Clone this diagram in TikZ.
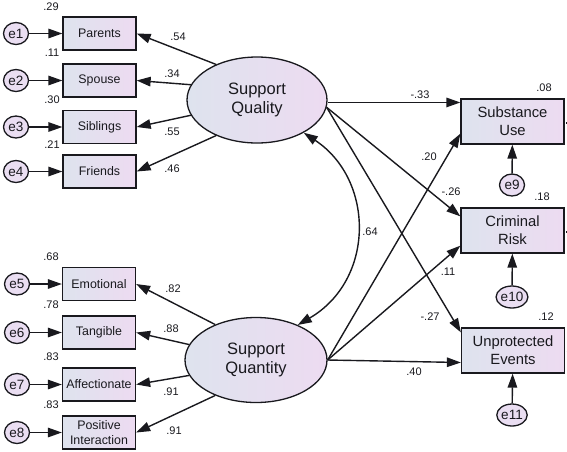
\documentclass[tikz,border=0pt]{standalone}
\usepackage{fontspec}
\setmainfont{Liberation Sans}
\usetikzlibrary{shapes.geometric,arrows.meta}
\definecolor{boxL}{RGB}{222,227,238}
\definecolor{boxR}{RGB}{237,219,241}
\definecolor{errC}{RGB}{234,222,242}
\definecolor{ink}{RGB}{25,25,30}
\tikzset{
  obs/.style={draw=ink, line width=1.3pt, left color=boxL, right color=boxR, minimum width=73pt, minimum height=33pt, inner sep=0pt, align=center, text=ink, font=\fontsize{12.4}{14.5}\selectfont},
  dep/.style={obs, minimum width=103pt, minimum height=45pt, font=\fontsize{14.8}{17.7}\selectfont},
  lat/.style={ellipse, draw=ink, line width=1.3pt, left color=boxL, right color=boxR, inner sep=0pt, align=center, text=ink, font=\fontsize{16.5}{19}\selectfont},
  err/.style={ellipse, draw=ink, line width=1.3pt, fill=errC, minimum width=25pt, minimum height=22pt, inner sep=0pt, text=ink, font=\fontsize{13.5}{14}\selectfont},
  lbl/.style={inner sep=0pt, text=ink, font=\fontsize{11}{13}\selectfont},
  arr/.style={-{Triangle[length=14pt,width=9.5pt]}, line width=1.4pt, draw=ink},
  cov/.style={{Triangle[length=14pt,width=9.5pt]}-{Triangle[length=14pt,width=9.5pt]}, line width=1.4pt, draw=ink},
}
\begin{document}
\begin{tikzpicture}[x=1pt,y=-1pt]
\useasboundingbox (0,0) rectangle (567,451);
% latent
\node[lat, minimum width=140pt, minimum height=86pt] (SQ) at (257,100) {Support\\Quality};
\node[lat, minimum width=142pt, minimum height=85pt] (SN) at (256,360) {Support\\Quantity};
% left indicators
\node[obs] (b1) at (99.5,33.5) {Parents};
\node[obs] (b2) at (99.5,80.5) {Spouse};
\node[obs] (b3) at (99.5,127) {Siblings};
\node[obs] (b4) at (99.5,171.5) {Friends};
\node[obs] (b5) at (99,284) {Emotional};
\node[obs] (b6) at (99,332.5) {Tangible};
\node[obs] (b7) at (99,384.5) {Affectionate};
\node[obs] (b8) at (99,432.5) {Positive\\Interaction};
% errors
\node[err] (e1) at (16,33.5) {e1};
\node[err] (e2) at (16,80.5) {e2};
\node[err] (e3) at (16,127) {e3};
\node[err] (e4) at (16,171.5) {e4};
\node[err] (e5) at (17,284) {e5};
\node[err] (e6) at (17,332.5) {e6};
\node[err] (e7) at (17,384.5) {e7};
\node[err] (e8) at (17,432.5) {e8};
% outcomes
\node[dep] (Sub) at (512.5,121.5) {Substance\\Use};
\node[dep] (Crim) at (512.5,230.5) {Criminal\\Risk};
\node[dep] (Unp) at (513,350.5) {Unprotected\\Events};
\node[err] (e9) at (512,185) {e9};
\node[err] (e10) at (512,297) {e10};
\node[err] (e11) at (512,415) {e11};
% error arrows
\foreach \i in {1,...,8} \draw[arr] (e\i) -- (b\i);
\draw[arr] (e9) -- (Sub);
\draw[arr] (e10) -- (Crim);
\draw[arr] (e11) -- (Unp);
% loadings
\draw[arr] (SQ.139) -- (b1.east);
\draw[arr] (SQ.167) -- (b2.east);
\draw[arr] (SQ.193) -- (b3.east);
\draw[arr] (SQ.221) -- (b4.east);
\draw[arr] (SN.139) -- (b5.east);
\draw[arr] (SN.167) -- (b6.east);
\draw[arr] (SN.193) -- (b7.east);
\draw[arr] (SN.221) -- (b8.east);
% structural paths
\draw[arr] (SQ.-2.5) -- (SQ.-2.5 -| Sub.west);
\draw[arr] (SQ.-6) -- ([yshift=-9pt]Crim.north west);
\draw[arr] (SQ.-6) -- ([yshift=-5pt]Unp.north west);
\draw[arr] (SN.east) -- ([yshift=11pt]Sub.south west);
\draw[arr] (SN.east) -- ([yshift=8pt]Crim.south west);
\draw[arr] (SN.east) -- ([yshift=-12pt]Unp.west);
% covariance
\draw[cov] (SQ.-35) .. controls (375,180) and (375,280) .. (SN.40);
% stubs on right edge
\coordinate (s1) at (567,123);
\coordinate (s2) at (567,232);
\coordinate (s3) at (567,352);
\draw[line width=1.4pt, draw=ink] ([xshift=1.5pt]Sub.east |- s1) -- (s1);
\draw[line width=1.4pt, draw=ink] ([xshift=1.5pt]Crim.east |- s2) -- (s2);
\draw[line width=1.4pt, draw=ink] ([xshift=1.5pt]Unp.east |- s3) -- (s3);
% variance labels
\node[lbl] (v1) at (51,7) {.29};
\node[lbl] (v2) at (52,53) {.11};
\node[lbl] (v3) at (52,100) {.30};
\node[lbl] (v4) at (52,145) {.21};
\node[lbl] (v5) at (51,257) {.68};
\node[lbl] (v6) at (51,305) {.78};
\node[lbl] (v7) at (51,357) {.83};
\node[lbl] (v8) at (51,405) {.83};
\node[lbl] (v9) at (544,88) {.08};
\node[lbl] (v10) at (542,197) {.18};
\node[lbl] (v11) at (546,317) {.12};
% loading labels
\node[lbl] (l1) at (178,37) {.54};
\node[lbl] (l2) at (172,74) {.34};
\node[lbl] (l3) at (172,132) {.55};
\node[lbl] (l4) at (172,169) {.46};
\node[lbl] (l5) at (173,289) {.82};
\node[lbl] (l6) at (171,329) {.88};
\node[lbl] (l7) at (171,392) {.91};
\node[lbl] (l8) at (174,431) {.91};
% path labels
\node[lbl] (p1) at (420,95) {-.33};
\node[lbl] (p2) at (429,157) {.20};
\node[lbl] (p3) at (451,192) {-.26};
\node[lbl] (p4) at (370,232) {.64};
\node[lbl] (p5) at (448,272) {.11};
\node[lbl] (p6) at (430,317) {-.27};
\node[lbl] (p7) at (414,372) {.40};
\end{tikzpicture}
\end{document}
